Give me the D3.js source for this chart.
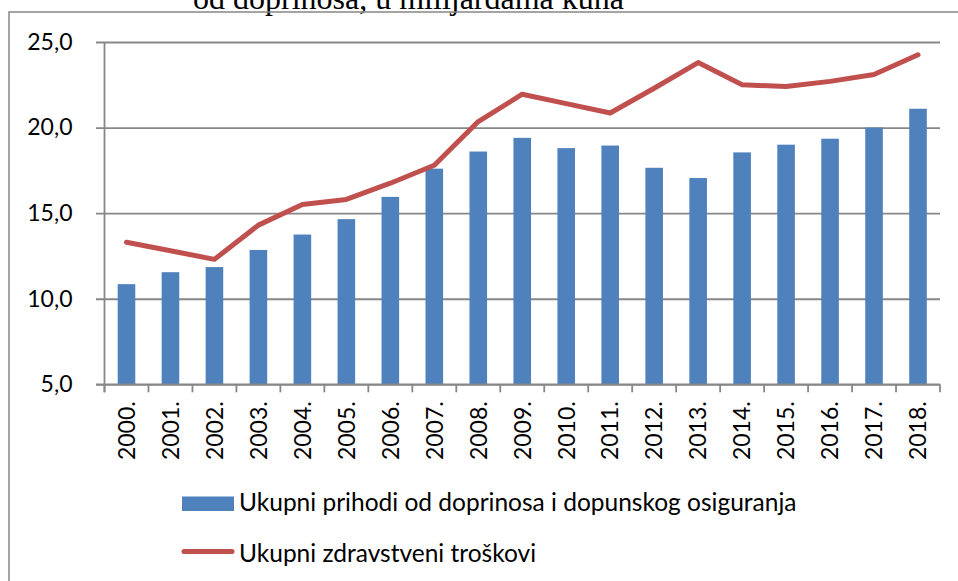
<!DOCTYPE html>
<html>
<head>
<meta charset="utf-8">
<script src="https://cdn.jsdelivr.net/npm/d3@7"></script>
<style>
  body { margin: 0; background: #fff; }
  svg { display: block; }
  .lbl { font-family: Lato, "Open Sans", sans-serif; font-size: 23px; fill: #000; }
  .leg { font-family: Lato, "Open Sans", sans-serif; font-size: 24.5px; fill: #000; }
</style>
</head>
<body>
<div id="chart"></div>
<script>
const years = ['2000.', '2001.', '2002.', '2003.', '2004.', '2005.', '2006.', '2007.', '2008.', '2009.',
  '2010.', '2011.', '2012.', '2013.', '2014.', '2015.', '2016.', '2017.', '2018.'];
const revenue = [10.85, 11.55, 11.85, 12.85, 13.75, 14.65, 15.95, 17.6, 18.6, 19.4,
  18.8, 18.95, 17.65, 17.05, 18.55, 19.0, 19.35, 20.0, 21.1];
const costs = [13.3, 12.8, 12.3, 14.3, 15.5, 15.8, 16.75, 17.8, 20.35, 21.95,
  21.4, 20.85, 22.3, 23.8, 22.5, 22.4, 22.7, 23.1, 24.25];
const yTicks = [5, 10, 15, 20, 25];
const seriesNames = ['Ukupni prihodi od doprinosa i dopunskog osiguranja', 'Ukupni zdravstveni troškovi'];
const titleText = 'od doprinosa, u milijardama kuna';

const width = 958, height = 581;
const plot = {left: 104.5, right: 940, top: 42, bottom: 384.3};
const grey = '#878787';
const blue = '#4F81BD';
const red = '#C0504D';

const svg = d3.select('#chart').append('svg')
  .attr('width', width)
  .attr('height', height);

// title (cut off at the top of the picture, as in the source)
svg.append('text')
  .attr('x', 193)
  .attr('y', 9)
  .style('font-family', '"Liberation Serif", "Times New Roman", serif')
  .style('font-size', '32px')
  .text(titleText);

// outer chart border
svg.append('rect')
  .attr('x', 9).attr('y', 12)
  .attr('width', 1000).attr('height', 700)
  .attr('fill', 'none')
  .attr('stroke', grey)
  .attr('stroke-width', 1.5);

const x = d3.scaleBand()
  .domain(years)
  .range([plot.left, plot.right])
  .paddingInner(0.6)
  .paddingOuter(0.3);

const y = d3.scaleLinear()
  .domain([5, 25])
  .range([plot.bottom, plot.top]);

// gridlines + y labels
const yAxis = d3.axisLeft(y)
  .tickValues(yTicks)
  .tickFormat(d => d3.format('.1f')(d).replace('.', ','))
  .tickSizeInner(-(plot.right - plot.left))
  .tickSizeOuter(0)
  .tickPadding(32);

const gy = svg.append('g')
  .attr('transform', 'translate(' + plot.left + ',0)')
  .call(yAxis);
gy.select('.domain').remove();
gy.selectAll('.tick line')
  .attr('x1', -8.5)
  .attr('stroke', grey)
  .attr('stroke-width', 1.8);
gy.selectAll('.tick text')
  .attr('class', 'lbl')
  .attr('font-family', null)
  .attr('font-size', null);

// bars
svg.selectAll('rect.bar')
  .data(revenue)
  .enter().append('rect')
  .attr('class', 'bar')
  .attr('x', (d, i) => x(years[i]))
  .attr('width', x.bandwidth())
  .attr('y', d => y(d))
  .attr('height', d => y(5) - y(d))
  .attr('fill', blue);

// y axis line
svg.append('line')
  .attr('x1', plot.left).attr('x2', plot.left)
  .attr('y1', plot.top).attr('y2', plot.bottom + 8)
  .attr('stroke', grey)
  .attr('stroke-width', 1.8);

// x axis line
svg.append('line')
  .attr('x1', plot.left - 8.5).attr('x2', plot.right)
  .attr('y1', plot.bottom).attr('y2', plot.bottom)
  .attr('stroke', grey)
  .attr('stroke-width', 1.8);

// x ticks at band boundaries
const bounds = years.map(d => x(d) - x.step() * x.paddingOuter()).concat([plot.right]);
svg.selectAll('line.xtick')
  .data(bounds)
  .enter().append('line')
  .attr('class', 'xtick')
  .attr('x1', d => d).attr('x2', d => d)
  .attr('y1', plot.bottom).attr('y2', plot.bottom + 8)
  .attr('stroke', grey)
  .attr('stroke-width', 1.8);

// x labels, rotated
svg.selectAll('text.xl')
  .data(years)
  .enter().append('text')
  .attr('class', 'lbl xl')
  .attr('text-anchor', 'end')
  .attr('dy', '0.36em')
  .attr('transform', d => 'translate(' + (x(d) + x.bandwidth() / 2) + ',' + (plot.bottom + 17) + ') rotate(-90)')
  .text(d => d);

// cost line
const line = d3.line()
  .x((d, i) => x(years[i]) + x.bandwidth() / 2)
  .y(d => y(d));

svg.append('path')
  .datum(costs)
  .attr('d', line)
  .attr('fill', 'none')
  .attr('stroke', red)
  .attr('stroke-width', 5)
  .attr('stroke-linejoin', 'round')
  .attr('stroke-linecap', 'round');

// legend
const legend = svg.append('g');
legend.append('rect')
  .attr('x', 182).attr('y', 496.5)
  .attr('width', 52).attr('height', 14.5)
  .attr('fill', blue);
legend.append('line')
  .attr('x1', 184).attr('x2', 232)
  .attr('y1', 551.5).attr('y2', 551.5)
  .attr('stroke', red)
  .attr('stroke-width', 5)
  .attr('stroke-linecap', 'round');
legend.selectAll('text')
  .data(seriesNames)
  .enter().append('text')
  .attr('class', 'leg')
  .attr('x', 239)
  .attr('y', (d, i) => i === 0 ? 511 : 562)
  .text(d => d);
</script>
</body>
</html>
